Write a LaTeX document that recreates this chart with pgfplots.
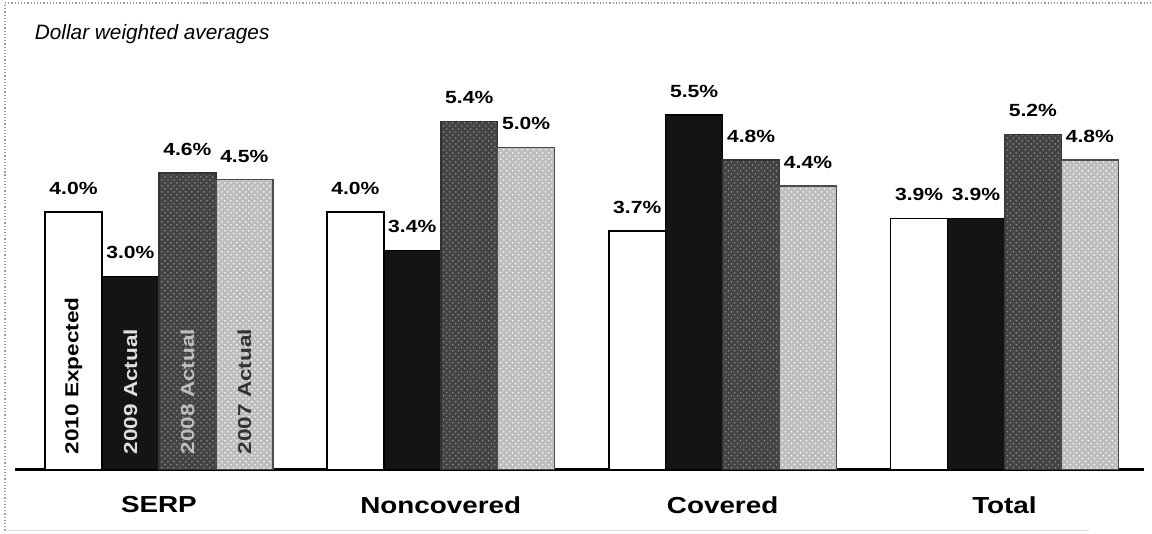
\documentclass[border=0pt]{standalone}
\usepackage{pgfplots}
\pgfplotsset{compat=1.18}
\usepackage{fontspec}
\setmainfont{Liberation Sans}
\newfontfamily\widesans[FakeStretch=1.2]{Liberation Sans}
\usetikzlibrary{patterns}

\definecolor{darkbar}{HTML}{434343}
\definecolor{lightbar}{HTML}{BDBDBD}
\definecolor{framegray}{HTML}{9A9A9A}

\begin{document}
\begin{tikzpicture}
\begin{axis}[
  scale only axis, width=565pt, height=225.75pt,
  xmin=-0.5106, xmax=3.496, ymin=0, ymax=7,
  ybar=0pt, bar width=0.202,
  axis x line=bottom, axis y line=none,
  x axis line style={line width=1.5pt,-},
  xtick={0,1,2,3}, xticklabels={SERP,Noncovered,Covered,Total},
  major tick length=0pt,
  xticklabel style={font=\widesans\bfseries\fontsize{11.6}{13}\selectfont, yshift=-10pt},
  clip=false,
  nodes near coords={\pgfmathprintnumber[fixed,fixed zerofill,precision=1,assume math mode=true]{\pgfplotspointmeta}\%},
  every node near coord/.append style={font=\widesans\bfseries\fontsize{8.8}{10}\selectfont, text=black, yshift=5pt},
]
% 2010 Expected
\addplot[draw=black, fill=white, line width=0.8pt]
  coordinates {(0,4.0) (1,4.0) (2,3.7) (3,3.9)};
% 2009 Actual
\addplot[draw=black, fill=black!92, line width=0.8pt]
  coordinates {(0,3.0) (1,3.4) (2,5.5) (3,3.9)};
% 2008 Actual
\addplot[draw=black!80, fill=darkbar, line width=0.8pt,
  postaction={pattern=crosshatch dots, pattern color=black!50}]
  coordinates {(0,4.6) (1,5.4) (2,4.8) (3,5.2)};
% 2007 Actual
\addplot[draw=black!70, fill=lightbar, line width=0.8pt,
  postaction={pattern=crosshatch dots, pattern color=white!80!lightbar}]
  coordinates {(0,4.5) (1,5.0) (2,4.4) (3,4.8)};

% series names written inside the first group
\node[rotate=90, anchor=west, font=\widesans\bfseries\fontsize{9.4}{11}\selectfont, text=black]
  at (axis cs:-0.303,0.13) {2010 Expected};
\node[rotate=90, anchor=west, font=\widesans\bfseries\fontsize{9.4}{11}\selectfont, text=black!12]
  at (axis cs:-0.101,0.13) {2009 Actual};
\node[rotate=90, anchor=west, font=\widesans\bfseries\fontsize{9.4}{11}\selectfont, text=black!25]
  at (axis cs:0.101,0.13) {2008 Actual};
\node[rotate=90, anchor=west, font=\widesans\bfseries\fontsize{9.4}{11}\selectfont, text=black!80]
  at (axis cs:0.303,0.13) {2007 Actual};

% heading
\node[anchor=west, font=\itshape\fontsize{10.4}{12}\selectfont]
  at (axis cs:-0.465,6.76) {Dollar weighted averages};

% page frame
\path (axis cs:-0.5638,7.287) rectangle (axis cs:3.5213,-0.9922);
\draw[framegray, densely dotted, line width=0.6pt]
  (axis cs:-0.546,-0.946) -- (axis cs:-0.546,7.240) -- (axis cs:3.5213,7.240);
\draw[black!15, line width=0.6pt]
  (axis cs:-0.546,-0.946) -- (axis cs:3.30,-0.946);
\end{axis}
\end{tikzpicture}
\end{document}
